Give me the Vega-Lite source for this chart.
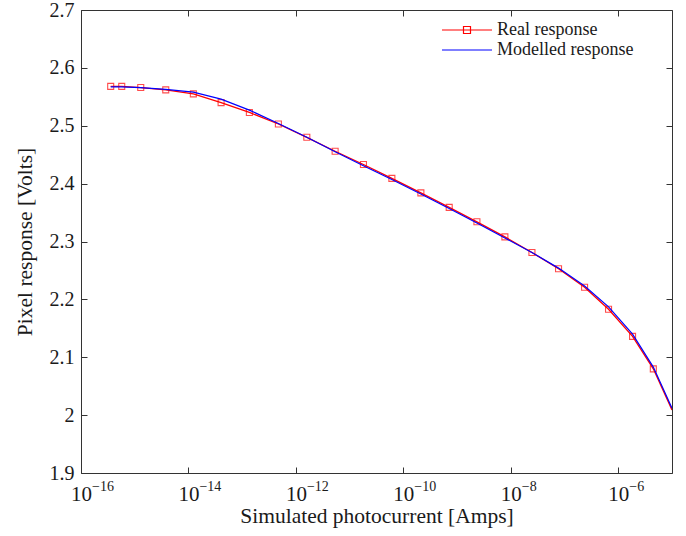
{
  "$schema": "https://vega.github.io/schema/vega-lite/v6.json",
  "autosize": "none",
  "width": 591,
  "height": 463,
  "padding": {"left": 81, "top": 10, "right": 14, "bottom": 63},
  "background": "white",
  "config": {
    "view": {"stroke": null},
    "font": "Liberation Serif",
    "axis": {
      "grid": false,
      "domainColor": "#333333",
      "domainWidth": 1,
      "tickColor": "#333333",
      "tickWidth": 1,
      "tickSize": -6,
      "labelFont": "Liberation Serif",
      "labelFontSize": 20,
      "labelColor": "#1a1a1a",
      "titleFont": "Liberation Serif",
      "titleFontSize": 21.5,
      "titleFontWeight": "normal",
      "titleColor": "#1a1a1a"
    },
    "legend": {
      "labelFont": "Liberation Serif",
      "labelFontSize": 18,
      "labelColor": "#1a1a1a"
    }
  },
  "data": {
    "values": [
      {"x": 3.57e-16, "y": 2.568, "series": "Real response"},
      {"x": 5.73e-16, "y": 2.568, "series": "Real response"},
      {"x": 1.294e-15, "y": 2.566, "series": "Real response"},
      {"x": 3.78e-15, "y": 2.562, "series": "Real response"},
      {"x": 1.233e-14, "y": 2.555, "series": "Real response"},
      {"x": 4.05e-14, "y": 2.540, "series": "Real response"},
      {"x": 1.361e-13, "y": 2.523, "series": "Real response"},
      {"x": 4.72e-13, "y": 2.503, "series": "Real response"},
      {"x": 1.596e-12, "y": 2.480, "series": "Real response"},
      {"x": 5.37e-12, "y": 2.456, "series": "Real response"},
      {"x": 1.807e-11, "y": 2.433, "series": "Real response"},
      {"x": 6.11e-11, "y": 2.409, "series": "Real response"},
      {"x": 2.118e-10, "y": 2.384, "series": "Real response"},
      {"x": 7.13e-10, "y": 2.359, "series": "Real response"},
      {"x": 2.339e-9, "y": 2.334, "series": "Real response"},
      {"x": 7.76e-9, "y": 2.308, "series": "Real response"},
      {"x": 2.472e-8, "y": 2.281, "series": "Real response"},
      {"x": 7.73e-8, "y": 2.253, "series": "Real response"},
      {"x": 2.36e-7, "y": 2.221, "series": "Real response"},
      {"x": 6.59e-7, "y": 2.183, "series": "Real response"},
      {"x": 1.845e-6, "y": 2.136, "series": "Real response"},
      {"x": 4.49e-6, "y": 2.080, "series": "Real response"},
      {"x": 1e-5, "y": 2.009, "series": "Real response"},
      {"x": 3.57e-16, "y": 2.567, "series": "Modelled response"},
      {"x": 5.73e-16, "y": 2.567, "series": "Modelled response"},
      {"x": 1.294e-15, "y": 2.566, "series": "Modelled response"},
      {"x": 3.78e-15, "y": 2.563, "series": "Modelled response"},
      {"x": 1.233e-14, "y": 2.558, "series": "Modelled response"},
      {"x": 4.05e-14, "y": 2.546, "series": "Modelled response"},
      {"x": 1.361e-13, "y": 2.527, "series": "Modelled response"},
      {"x": 4.72e-13, "y": 2.504, "series": "Modelled response"},
      {"x": 1.596e-12, "y": 2.480, "series": "Modelled response"},
      {"x": 5.37e-12, "y": 2.455, "series": "Modelled response"},
      {"x": 1.807e-11, "y": 2.431, "series": "Modelled response"},
      {"x": 6.11e-11, "y": 2.407, "series": "Modelled response"},
      {"x": 2.118e-10, "y": 2.382, "series": "Modelled response"},
      {"x": 7.13e-10, "y": 2.357, "series": "Modelled response"},
      {"x": 2.339e-9, "y": 2.332, "series": "Modelled response"},
      {"x": 7.76e-9, "y": 2.306, "series": "Modelled response"},
      {"x": 2.472e-8, "y": 2.281, "series": "Modelled response"},
      {"x": 7.73e-8, "y": 2.254, "series": "Modelled response"},
      {"x": 2.36e-7, "y": 2.223, "series": "Modelled response"},
      {"x": 6.59e-7, "y": 2.187, "series": "Modelled response"},
      {"x": 1.845e-6, "y": 2.140, "series": "Modelled response"},
      {"x": 4.49e-6, "y": 2.083, "series": "Modelled response"},
      {"x": 1e-5, "y": 2.012, "series": "Modelled response"}
    ]
  },
  "layer": [
    {
      "mark": {"type": "line", "strokeWidth": 1.3, "clip": true},
      "transform": [{"filter": "datum.series == 'Real response'"}],
      "encoding": {
        "x": {
          "field": "x",
          "type": "quantitative",
          "scale": {"type": "log", "domain": [1e-16, 1e-5], "nice": false},
          "axis": {
            "orient": "bottom",
            "title": "Simulated photocurrent [Amps]",
            "values": [1e-16, 1e-14, 1e-12, 1e-10, 1e-8, 1e-6],
            "labelExpr": "'10'",
            "labelFlush": false,
            "labelOverlap": false,
            "labelFontSize": 21,
            "labelPadding": 16,
            "titlePadding": 1
          }
        },
        "y": {
          "field": "y",
          "type": "quantitative",
          "scale": {"domain": [1.9, 2.7], "nice": false, "zero": false},
          "axis": {
            "orient": "left",
            "title": "Pixel response [Volts]",
            "values": [1.9, 2.0, 2.1, 2.2, 2.3, 2.4, 2.5, 2.6, 2.7],
            "labelExpr": "datum.value == 2 ? '2' : format(datum.value, '.1f')",
            "labelPadding": 13,
            "titlePadding": 13
          }
        },
        "color": {
          "field": "series",
          "type": "nominal",
          "scale": {"domain": ["Real response", "Modelled response"], "range": ["#ff0000", "#0000ff"]},
          "legend": {
            "title": null,
            "orient": "none",
            "legendX": 377,
            "legendY": 11,
            "symbolType": "stroke",
            "symbolSize": 100,
            "symbolStrokeWidth": 1.2,
            "labelOffset": 21,
            "rowPadding": 2,
            "encode": {
              "symbols": {
                "update": {
                  "shape": {"signal": "datum.value == 'Real response' ? 'M-5,0H5M-0.7,-0.7H0.7V0.7H-0.7Z' : 'M-5,0H5'"},
                  "fill": {"value": "transparent"}
                }
              }
            }
          }
        }
      }
    },
    {
      "mark": {"type": "point", "shape": "square", "size": 36, "filled": false, "strokeWidth": 1.1, "clip": true},
      "transform": [{"filter": "datum.series == 'Real response' && datum.x < 9e-6"}],
      "encoding": {
        "x": {"field": "x", "type": "quantitative", "scale": {"type": "log", "domain": [1e-16, 1e-5], "nice": false}, "axis": null},
        "y": {"field": "y", "type": "quantitative", "scale": {"domain": [1.9, 2.7], "nice": false, "zero": false}, "axis": null},
        "color": {"field": "series", "type": "nominal", "legend": null}
      }
    },
    {
      "mark": {"type": "line", "strokeWidth": 1.2, "clip": true},
      "transform": [{"filter": "datum.series == 'Modelled response'"}],
      "encoding": {
        "x": {
          "field": "x",
          "type": "quantitative",
          "scale": {"type": "log", "domain": [1e-16, 1e-5], "nice": false},
          "axis": {
            "orient": "top",
            "title": null,
            "labels": false,
            "values": [1e-16, 1e-14, 1e-12, 1e-10, 1e-8, 1e-6]
          }
        },
        "y": {
          "field": "y",
          "type": "quantitative",
          "scale": {"domain": [1.9, 2.7], "nice": false, "zero": false},
          "axis": {
            "orient": "right",
            "title": null,
            "labels": false,
            "values": [1.9, 2.0, 2.1, 2.2, 2.3, 2.4, 2.5, 2.6, 2.7]
          }
        },
        "color": {"field": "series", "type": "nominal", "legend": null}
      }
    },
    {
      "data": {
        "values": [
          {"tick": 1e-16, "base": 1.9, "exponent": "−16"},
          {"tick": 1e-14, "base": 1.9, "exponent": "−14"},
          {"tick": 1e-12, "base": 1.9, "exponent": "−12"},
          {"tick": 1e-10, "base": 1.9, "exponent": "−10"},
          {"tick": 1e-8, "base": 1.9, "exponent": "−8"},
          {"tick": 1e-6, "base": 1.9, "exponent": "−6"}
        ]
      },
      "mark": {"type": "text", "align": "left", "baseline": "alphabetic", "dx": 11, "dy": 18, "fontSize": 14, "font": "Liberation Serif", "color": "#1a1a1a"},
      "encoding": {
        "x": {"field": "tick", "type": "quantitative", "scale": {"type": "log", "domain": [1e-16, 1e-5], "nice": false}, "axis": null},
        "y": {"field": "base", "type": "quantitative", "scale": {"domain": [1.9, 2.7], "nice": false, "zero": false}, "axis": null},
        "text": {"field": "exponent", "type": "nominal"}
      }
    }
  ],
  "resolve": {"axis": {"x": "independent", "y": "independent"}}
}
